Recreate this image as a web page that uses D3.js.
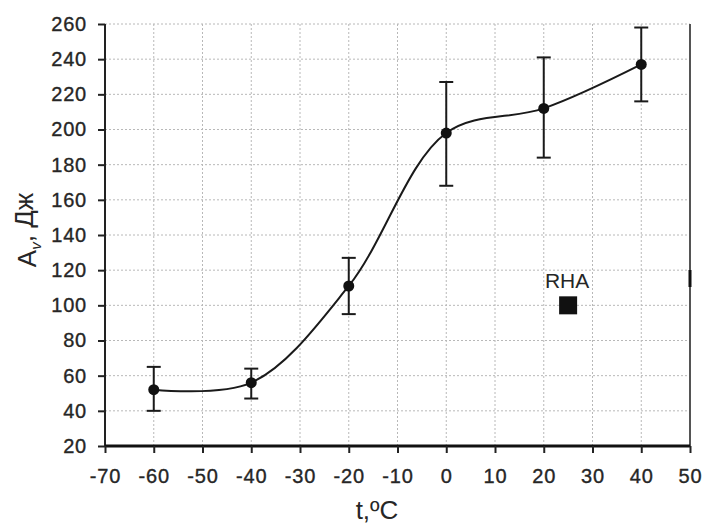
<!DOCTYPE html>
<html>
  <head>
    <meta charset="utf-8">
    <title>Impact energy vs temperature</title>
    <script src="https://d3js.org/d3.v7.min.js"></script>
    <style>
      body { margin: 0; background: #fff; }
      svg text { font-family: "Liberation Sans", Arial, sans-serif; fill: #262626; }
      .tick text { stroke: #262626; stroke-width: 0.35px; }
    </style>
  </head>
  <body>
    <div class="chart"></div>
    <script>
      // data
      var temps = [-60, -40, -20, 0, 20, 40];
      var energy = [52, 56, 111, 198, 212, 237];
      var errLow = [40, 47, 95, 168, 184, 216];
      var errHigh = [65, 64, 127, 227, 241, 258];
      var rhaT = [25];
      var rhaA = [100];
      var rhaLabel = ["RHA"];
      var xTicks = [-70, -60, -50, -40, -30, -20, -10, 0, 10, 20, 30, 40, 50];
      var yTicks = [20, 40, 60, 80, 100, 120, 140, 160, 180, 200, 220, 240, 260];

      var width = 704, height = 524;
      var plotL = 105, plotR = 690, plotT = 24, plotB = 446;

      var x = d3.scaleLinear().domain([-70, 50]).range([plotL, plotR]);
      var y = d3.scaleLinear().domain([20, 260]).range([plotB, plotT]);

      var svg = d3.select(".chart").append("svg")
        .attr("width", width)
        .attr("height", height);

      // dotted grid
      svg.append("g").selectAll("line")
        .data(xTicks.slice(1, -1))
        .enter().append("line")
          .attr("x1", d => x(d)).attr("x2", d => x(d))
          .attr("y1", plotT).attr("y2", plotB)
          .attr("stroke", "#b8b8b8")
          .attr("stroke-width", 1)
          .attr("stroke-dasharray", "2,2");

      svg.append("g").selectAll("line")
        .data(yTicks.slice(1))
        .enter().append("line")
          .attr("x1", plotL).attr("x2", plotR)
          .attr("y1", d => y(d)).attr("y2", d => y(d))
          .attr("stroke", "#b8b8b8")
          .attr("stroke-width", 1)
          .attr("stroke-dasharray", "2,2");

      // right frame line
      svg.append("line")
        .attr("x1", plotR).attr("x2", plotR)
        .attr("y1", plotT).attr("y2", plotB)
        .attr("stroke", "#555")
        .attr("stroke-width", 2);
      svg.append("line")
        .attr("x1", plotR).attr("x2", plotR)
        .attr("y1", 270).attr("y2", 287)
        .attr("stroke", "#111")
        .attr("stroke-width", 3);

      // axes
      var yAxis = d3.axisLeft(y).tickValues(yTicks).tickSize(7).tickPadding(11)
        .tickFormat(d => String(d));
      var gy = svg.append("g")
        .attr("transform", "translate(" + plotL + ",0)")
        .call(yAxis);
      gy.select(".domain").attr("stroke", "#222").attr("stroke-width", 2).attr("d", "M0," + plotT + "V" + plotB);
      gy.selectAll(".tick line").attr("stroke", "#222").attr("stroke-width", 2);
      gy.selectAll("text").style("font-size", "20px").attr("letter-spacing", "0.8px");

      var xAxis = d3.axisBottom(x).tickValues(xTicks).tickSize(7).tickPadding(16)
        .tickFormat(d => String(d));
      var gx = svg.append("g")
        .attr("transform", "translate(0," + plotB + ")")
        .call(xAxis);
      gx.select(".domain").attr("stroke", "#111").attr("stroke-width", 3).attr("d", "M" + plotL + ",0H" + plotR);
      gx.selectAll(".tick line").attr("stroke", "#222").attr("stroke-width", 2);
      gx.selectAll("text").style("font-size", "20px").attr("letter-spacing", "0.8px");

      // axis titles
      svg.append("text")
        .attr("x", 377)
        .attr("y", 519)
        .attr("text-anchor", "middle")
        .style("font-size", "26px")
        .text("t,ºC");

      var ylab = svg.append("text")
        .attr("transform", "translate(36,230) rotate(-90)")
        .attr("text-anchor", "middle")
        .style("font-size", "26px");
      ylab.append("tspan").text("A");
      ylab.append("tspan").attr("dy", "0.3em").style("font-size", "15px").style("font-style", "italic").text("v");
      ylab.append("tspan").attr("dy", "-0.3em").text(", Дж");

      // fitted curve
      var pts = temps.map((t, i) => [t, energy[i]]);
      var line = d3.line()
        .x(d => x(d[0]))
        .y(d => y(d[1]))
        .curve(d3.curveCatmullRom.alpha(0.5));

      svg.append("path")
        .datum(pts)
        .attr("d", line)
        .attr("fill", "none")
        .attr("stroke", "#1a1a1a")
        .attr("stroke-width", 2);

      // error bars
      var eb = svg.append("g").selectAll("g")
        .data(temps)
        .enter().append("g");

      eb.append("line")
        .attr("x1", d => x(d)).attr("x2", d => x(d))
        .attr("y1", (d, i) => y(errLow[i]))
        .attr("y2", (d, i) => y(errHigh[i]))
        .attr("stroke", "#1a1a1a").attr("stroke-width", 2);
      eb.append("line")
        .attr("x1", d => x(d) - 7).attr("x2", d => x(d) + 7)
        .attr("y1", (d, i) => y(errLow[i])).attr("y2", (d, i) => y(errLow[i]))
        .attr("stroke", "#1a1a1a").attr("stroke-width", 2);
      eb.append("line")
        .attr("x1", d => x(d) - 7).attr("x2", d => x(d) + 7)
        .attr("y1", (d, i) => y(errHigh[i])).attr("y2", (d, i) => y(errHigh[i]))
        .attr("stroke", "#1a1a1a").attr("stroke-width", 2);
      eb.append("circle")
        .attr("cx", d => x(d))
        .attr("cy", (d, i) => y(energy[i]))
        .attr("r", 5.5)
        .attr("fill", "#111");

      // RHA marker
      svg.append("g").selectAll("rect")
        .data(rhaT)
        .enter().append("rect")
          .attr("x", d => x(d) - 9)
          .attr("y", (d, i) => y(rhaA[i]) - 9)
          .attr("width", 18).attr("height", 18)
          .attr("fill", "#111");

      svg.append("g").selectAll("text")
        .data(rhaT)
        .enter().append("text")
          .attr("x", d => x(d) - 1)
          .attr("y", (d, i) => y(rhaA[i]) - 17)
          .attr("text-anchor", "middle")
          .style("font-size", "21px")
          .text((d, i) => rhaLabel[i]);
    </script>
  </body>
</html>
